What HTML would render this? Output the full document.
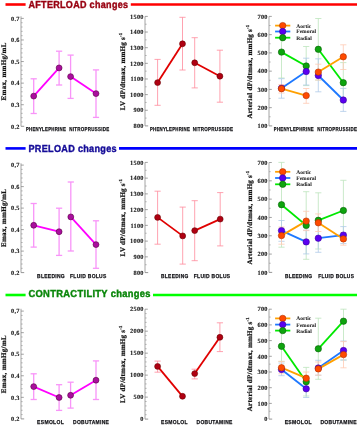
<!DOCTYPE html>
<html><head><meta charset="utf-8">
<style>
html,body{margin:0;padding:0;background:#fff;}
body{width:358px;height:425px;overflow:hidden;font-family:"Liberation Sans", sans-serif;}
svg{display:block;will-change:transform;text-rendering:geometricPrecision;}
</style></head>
<body>
<svg width="358" height="425" viewBox="0 0 358 425">
<rect width="358" height="425" fill="#fff"/>
<line x1="5.5" y1="4.5" x2="25.6" y2="4.5" stroke="#ff0000" stroke-width="2.6"/>
<text transform="translate(28.45,7.6) scale(0.8845,1)" font-family='"Liberation Sans", sans-serif' font-weight="bold" font-size="10.2" fill="#980010" stroke="#980010" stroke-width="0.42" letter-spacing="0.35">AFTERLOAD changes</text>
<line x1="130.8" y1="4.5" x2="357" y2="4.5" stroke="#ff0000" stroke-width="2.6"/>
<line x1="5.5" y1="148.4" x2="25.6" y2="148.4" stroke="#0000ff" stroke-width="2.6"/>
<text transform="translate(28.45,151.6) scale(0.8919,1)" font-family='"Liberation Sans", sans-serif' font-weight="bold" font-size="10.2" fill="#150c98" stroke="#150c98" stroke-width="0.42" letter-spacing="0.35">PRELOAD changes</text>
<line x1="119.0" y1="148.4" x2="357" y2="148.4" stroke="#0000ff" stroke-width="2.6"/>
<line x1="5.5" y1="295.0" x2="25.6" y2="295.0" stroke="#00ff00" stroke-width="2.6"/>
<text transform="translate(28.45,297.1) scale(0.9176,1)" font-family='"Liberation Sans", sans-serif' font-weight="bold" font-size="10.2" fill="#0a860a" stroke="#0a860a" stroke-width="0.42" letter-spacing="0.35">CONTRACTILITY changes</text>
<line x1="153.0" y1="295.0" x2="357" y2="295.0" stroke="#00ff00" stroke-width="2.6"/>
<line x1="21.0" y1="16.3" x2="21.0" y2="126.3" stroke="#9a9a9a" stroke-width="0.9"/>
<line x1="21.0" y1="126.3" x2="24.2" y2="126.3" stroke="#8a8a8a" stroke-width="0.9"/>
<line x1="21.0" y1="121.98" x2="22.6" y2="121.98" stroke="#a0a0a0" stroke-width="0.8"/>
<line x1="21.0" y1="117.67" x2="22.6" y2="117.67" stroke="#a0a0a0" stroke-width="0.8"/>
<line x1="21.0" y1="113.35" x2="22.6" y2="113.35" stroke="#a0a0a0" stroke-width="0.8"/>
<line x1="21.0" y1="109.04" x2="22.6" y2="109.04" stroke="#a0a0a0" stroke-width="0.8"/>
<line x1="21.0" y1="104.72" x2="23.8" y2="104.72" stroke="#8a8a8a" stroke-width="0.8"/>
<line x1="21.0" y1="100.40" x2="22.6" y2="100.40" stroke="#a0a0a0" stroke-width="0.8"/>
<line x1="21.0" y1="96.09" x2="22.6" y2="96.09" stroke="#a0a0a0" stroke-width="0.8"/>
<line x1="21.0" y1="91.77" x2="22.6" y2="91.77" stroke="#a0a0a0" stroke-width="0.8"/>
<line x1="21.0" y1="87.46" x2="22.6" y2="87.46" stroke="#a0a0a0" stroke-width="0.8"/>
<line x1="21.0" y1="83.14" x2="23.8" y2="83.14" stroke="#8a8a8a" stroke-width="0.8"/>
<line x1="21.0" y1="78.82" x2="22.6" y2="78.82" stroke="#a0a0a0" stroke-width="0.8"/>
<line x1="21.0" y1="74.51" x2="22.6" y2="74.51" stroke="#a0a0a0" stroke-width="0.8"/>
<line x1="21.0" y1="70.19" x2="22.6" y2="70.19" stroke="#a0a0a0" stroke-width="0.8"/>
<line x1="21.0" y1="65.88" x2="22.6" y2="65.88" stroke="#a0a0a0" stroke-width="0.8"/>
<line x1="21.0" y1="61.56" x2="23.8" y2="61.56" stroke="#8a8a8a" stroke-width="0.8"/>
<line x1="21.0" y1="57.24" x2="22.6" y2="57.24" stroke="#a0a0a0" stroke-width="0.8"/>
<line x1="21.0" y1="52.93" x2="22.6" y2="52.93" stroke="#a0a0a0" stroke-width="0.8"/>
<line x1="21.0" y1="48.61" x2="22.6" y2="48.61" stroke="#a0a0a0" stroke-width="0.8"/>
<line x1="21.0" y1="44.30" x2="22.6" y2="44.30" stroke="#a0a0a0" stroke-width="0.8"/>
<line x1="21.0" y1="39.98" x2="23.8" y2="39.98" stroke="#8a8a8a" stroke-width="0.8"/>
<line x1="21.0" y1="35.66" x2="22.6" y2="35.66" stroke="#a0a0a0" stroke-width="0.8"/>
<line x1="21.0" y1="31.35" x2="22.6" y2="31.35" stroke="#a0a0a0" stroke-width="0.8"/>
<line x1="21.0" y1="27.03" x2="22.6" y2="27.03" stroke="#a0a0a0" stroke-width="0.8"/>
<line x1="21.0" y1="22.72" x2="22.6" y2="22.72" stroke="#a0a0a0" stroke-width="0.8"/>
<line x1="21.0" y1="18.40" x2="23.8" y2="18.40" stroke="#8a8a8a" stroke-width="0.8"/>
<text x="19.78" y="128.50" text-anchor="end" font-family='"Liberation Serif", serif' font-weight="bold" font-size="6.3" letter-spacing="0.28" fill="#222" stroke="#222" stroke-width="0.12">0.2</text>
<text x="19.78" y="106.92" text-anchor="end" font-family='"Liberation Serif", serif' font-weight="bold" font-size="6.3" letter-spacing="0.28" fill="#222" stroke="#222" stroke-width="0.12">0.3</text>
<text x="19.78" y="85.34" text-anchor="end" font-family='"Liberation Serif", serif' font-weight="bold" font-size="6.3" letter-spacing="0.28" fill="#222" stroke="#222" stroke-width="0.12">0.4</text>
<text x="19.78" y="63.76" text-anchor="end" font-family='"Liberation Serif", serif' font-weight="bold" font-size="6.3" letter-spacing="0.28" fill="#222" stroke="#222" stroke-width="0.12">0.5</text>
<text x="19.78" y="42.18" text-anchor="end" font-family='"Liberation Serif", serif' font-weight="bold" font-size="6.3" letter-spacing="0.28" fill="#222" stroke="#222" stroke-width="0.12">0.6</text>
<text x="19.78" y="20.60" text-anchor="end" font-family='"Liberation Serif", serif' font-weight="bold" font-size="6.3" letter-spacing="0.28" fill="#222" stroke="#222" stroke-width="0.12">0.7</text>
<text transform="translate(6.0,71.36) rotate(-90)" text-anchor="middle" font-family='"Liberation Serif", serif' font-weight="bold" font-size="7" letter-spacing="0.317" fill="#111" stroke="#111" stroke-width="0.22">Emax, mmHg/mL</text>
<text x="25.9" y="131.0" font-family='"Liberation Sans", sans-serif' font-weight="bold" font-size="5.7" letter-spacing="0.35" fill="#141418" stroke="#141418" stroke-width="0.25" textLength="40.2" lengthAdjust="spacingAndGlyphs">PHENYLEPHRINE</text>
<text x="69.2" y="131.0" font-family='"Liberation Sans", sans-serif' font-weight="bold" font-size="5.7" letter-spacing="0.35" fill="#141418" stroke="#141418" stroke-width="0.25" textLength="40.2" lengthAdjust="spacingAndGlyphs">NITROPRUSSIDE</text>
<line x1="33.7" y1="78.8" x2="33.7" y2="113.5" stroke="#f894f8" stroke-width="1.3"/>
<line x1="30.6" y1="78.8" x2="36.800000000000004" y2="78.8" stroke="#f894f8" stroke-width="1.3"/>
<line x1="30.6" y1="113.5" x2="36.800000000000004" y2="113.5" stroke="#f894f8" stroke-width="1.3"/>
<line x1="59.1" y1="51.2" x2="59.1" y2="85.0" stroke="#f894f8" stroke-width="1.3"/>
<line x1="56.0" y1="51.2" x2="62.2" y2="51.2" stroke="#f894f8" stroke-width="1.3"/>
<line x1="56.0" y1="85.0" x2="62.2" y2="85.0" stroke="#f894f8" stroke-width="1.3"/>
<line x1="70.6" y1="55.1" x2="70.6" y2="98.4" stroke="#f894f8" stroke-width="1.3"/>
<line x1="67.5" y1="55.1" x2="73.69999999999999" y2="55.1" stroke="#f894f8" stroke-width="1.3"/>
<line x1="67.5" y1="98.4" x2="73.69999999999999" y2="98.4" stroke="#f894f8" stroke-width="1.3"/>
<line x1="96.0" y1="69.9" x2="96.0" y2="117.4" stroke="#f894f8" stroke-width="1.3"/>
<line x1="92.9" y1="69.9" x2="99.1" y2="69.9" stroke="#f894f8" stroke-width="1.3"/>
<line x1="92.9" y1="117.4" x2="99.1" y2="117.4" stroke="#f894f8" stroke-width="1.3"/>
<line x1="33.7" y1="96.1" x2="59.1" y2="67.9" stroke="#ff00ff" stroke-width="1.8"/>
<line x1="70.6" y1="76.6" x2="96.0" y2="93.6" stroke="#ff00ff" stroke-width="1.8"/>
<circle cx="33.7" cy="96.1" r="2.95" fill="#aa0e9e" stroke="#580042" stroke-width="0.6"/>
<circle cx="59.1" cy="67.9" r="2.95" fill="#aa0e9e" stroke="#580042" stroke-width="0.6"/>
<circle cx="70.6" cy="76.6" r="2.95" fill="#aa0e9e" stroke="#580042" stroke-width="0.6"/>
<circle cx="96.0" cy="93.6" r="2.95" fill="#aa0e9e" stroke="#580042" stroke-width="0.6"/>
<line x1="145.0" y1="16.4" x2="145.0" y2="125.9" stroke="#9a9a9a" stroke-width="0.9"/>
<line x1="145.0" y1="125.9" x2="148.2" y2="125.9" stroke="#8a8a8a" stroke-width="0.9"/>
<line x1="145.0" y1="118.08" x2="146.6" y2="118.08" stroke="#a0a0a0" stroke-width="0.8"/>
<line x1="145.0" y1="110.26" x2="147.8" y2="110.26" stroke="#8a8a8a" stroke-width="0.8"/>
<line x1="145.0" y1="102.44" x2="146.6" y2="102.44" stroke="#a0a0a0" stroke-width="0.8"/>
<line x1="145.0" y1="94.61" x2="147.8" y2="94.61" stroke="#8a8a8a" stroke-width="0.8"/>
<line x1="145.0" y1="86.79" x2="146.6" y2="86.79" stroke="#a0a0a0" stroke-width="0.8"/>
<line x1="145.0" y1="78.97" x2="147.8" y2="78.97" stroke="#8a8a8a" stroke-width="0.8"/>
<line x1="145.0" y1="71.15" x2="146.6" y2="71.15" stroke="#a0a0a0" stroke-width="0.8"/>
<line x1="145.0" y1="63.33" x2="147.8" y2="63.33" stroke="#8a8a8a" stroke-width="0.8"/>
<line x1="145.0" y1="55.51" x2="146.6" y2="55.51" stroke="#a0a0a0" stroke-width="0.8"/>
<line x1="145.0" y1="47.69" x2="147.8" y2="47.69" stroke="#8a8a8a" stroke-width="0.8"/>
<line x1="145.0" y1="39.86" x2="146.6" y2="39.86" stroke="#a0a0a0" stroke-width="0.8"/>
<line x1="145.0" y1="32.04" x2="147.8" y2="32.04" stroke="#8a8a8a" stroke-width="0.8"/>
<line x1="145.0" y1="24.22" x2="146.6" y2="24.22" stroke="#a0a0a0" stroke-width="0.8"/>
<line x1="145.0" y1="16.40" x2="147.8" y2="16.40" stroke="#8a8a8a" stroke-width="0.8"/>
<text x="143.78" y="128.10" text-anchor="end" font-family='"Liberation Serif", serif' font-weight="bold" font-size="6.3" letter-spacing="0.28" fill="#222" stroke="#222" stroke-width="0.12">800</text>
<text x="143.78" y="112.46" text-anchor="end" font-family='"Liberation Serif", serif' font-weight="bold" font-size="6.3" letter-spacing="0.28" fill="#222" stroke="#222" stroke-width="0.12">900</text>
<text x="143.78" y="96.81" text-anchor="end" font-family='"Liberation Serif", serif' font-weight="bold" font-size="6.3" letter-spacing="0.28" fill="#222" stroke="#222" stroke-width="0.12">1000</text>
<text x="143.78" y="81.17" text-anchor="end" font-family='"Liberation Serif", serif' font-weight="bold" font-size="6.3" letter-spacing="0.28" fill="#222" stroke="#222" stroke-width="0.12">1100</text>
<text x="143.78" y="65.53" text-anchor="end" font-family='"Liberation Serif", serif' font-weight="bold" font-size="6.3" letter-spacing="0.28" fill="#222" stroke="#222" stroke-width="0.12">1200</text>
<text x="143.78" y="49.89" text-anchor="end" font-family='"Liberation Serif", serif' font-weight="bold" font-size="6.3" letter-spacing="0.28" fill="#222" stroke="#222" stroke-width="0.12">1300</text>
<text x="143.78" y="34.24" text-anchor="end" font-family='"Liberation Serif", serif' font-weight="bold" font-size="6.3" letter-spacing="0.28" fill="#222" stroke="#222" stroke-width="0.12">1400</text>
<text x="143.78" y="18.60" text-anchor="end" font-family='"Liberation Serif", serif' font-weight="bold" font-size="6.3" letter-spacing="0.28" fill="#222" stroke="#222" stroke-width="0.12">1500</text>
<text transform="translate(125.3,71.42) rotate(-90)" text-anchor="middle" font-family='"Liberation Serif", serif' font-weight="bold" font-size="7" letter-spacing="0.25" fill="#111" stroke="#111" stroke-width="0.22">LV dP/dtmax, mmHg s<tspan font-size="4.6" dy="-3">-1</tspan></text>
<text x="149.9" y="131.0" font-family='"Liberation Sans", sans-serif' font-weight="bold" font-size="5.7" letter-spacing="0.35" fill="#141418" stroke="#141418" stroke-width="0.25" textLength="40.2" lengthAdjust="spacingAndGlyphs">PHENYLEPHRINE</text>
<text x="192.7" y="131.0" font-family='"Liberation Sans", sans-serif' font-weight="bold" font-size="5.7" letter-spacing="0.35" fill="#141418" stroke="#141418" stroke-width="0.25" textLength="40.6" lengthAdjust="spacingAndGlyphs">NITROPRUSSIDE</text>
<line x1="157.6" y1="59.4" x2="157.6" y2="105.3" stroke="#ff8a9c" stroke-width="0.8"/>
<line x1="154.5" y1="59.4" x2="160.7" y2="59.4" stroke="#ff8a9c" stroke-width="0.8"/>
<line x1="154.5" y1="105.3" x2="160.7" y2="105.3" stroke="#ff8a9c" stroke-width="0.8"/>
<line x1="182.5" y1="17.3" x2="182.5" y2="70.0" stroke="#ff8a9c" stroke-width="0.8"/>
<line x1="179.4" y1="17.3" x2="185.6" y2="17.3" stroke="#ff8a9c" stroke-width="0.8"/>
<line x1="179.4" y1="70.0" x2="185.6" y2="70.0" stroke="#ff8a9c" stroke-width="0.8"/>
<line x1="194.7" y1="37.7" x2="194.7" y2="87.9" stroke="#ff8a9c" stroke-width="0.8"/>
<line x1="191.6" y1="37.7" x2="197.79999999999998" y2="37.7" stroke="#ff8a9c" stroke-width="0.8"/>
<line x1="191.6" y1="87.9" x2="197.79999999999998" y2="87.9" stroke="#ff8a9c" stroke-width="0.8"/>
<line x1="219.9" y1="50.2" x2="219.9" y2="102.2" stroke="#ff8a9c" stroke-width="0.8"/>
<line x1="216.8" y1="50.2" x2="223.0" y2="50.2" stroke="#ff8a9c" stroke-width="0.8"/>
<line x1="216.8" y1="102.2" x2="223.0" y2="102.2" stroke="#ff8a9c" stroke-width="0.8"/>
<line x1="157.6" y1="82.6" x2="182.5" y2="43.8" stroke="#e00000" stroke-width="1.8"/>
<line x1="194.7" y1="62.8" x2="219.9" y2="76.2" stroke="#e00000" stroke-width="1.8"/>
<circle cx="157.6" cy="82.6" r="2.95" fill="#b00012" stroke="#680000" stroke-width="0.6"/>
<circle cx="182.5" cy="43.8" r="2.95" fill="#b00012" stroke="#680000" stroke-width="0.6"/>
<circle cx="194.7" cy="62.8" r="2.95" fill="#b00012" stroke="#680000" stroke-width="0.6"/>
<circle cx="219.9" cy="76.2" r="2.95" fill="#b00012" stroke="#680000" stroke-width="0.6"/>
<line x1="269.0" y1="16.4" x2="269.0" y2="125.9" stroke="#9a9a9a" stroke-width="0.9"/>
<line x1="269.0" y1="125.9" x2="272.2" y2="125.9" stroke="#8a8a8a" stroke-width="0.9"/>
<line x1="269.0" y1="116.78" x2="270.6" y2="116.78" stroke="#a0a0a0" stroke-width="0.8"/>
<line x1="269.0" y1="107.65" x2="271.8" y2="107.65" stroke="#8a8a8a" stroke-width="0.8"/>
<line x1="269.0" y1="98.53" x2="270.6" y2="98.53" stroke="#a0a0a0" stroke-width="0.8"/>
<line x1="269.0" y1="89.40" x2="271.8" y2="89.40" stroke="#8a8a8a" stroke-width="0.8"/>
<line x1="269.0" y1="80.28" x2="270.6" y2="80.28" stroke="#a0a0a0" stroke-width="0.8"/>
<line x1="269.0" y1="71.15" x2="271.8" y2="71.15" stroke="#8a8a8a" stroke-width="0.8"/>
<line x1="269.0" y1="62.03" x2="270.6" y2="62.03" stroke="#a0a0a0" stroke-width="0.8"/>
<line x1="269.0" y1="52.90" x2="271.8" y2="52.90" stroke="#8a8a8a" stroke-width="0.8"/>
<line x1="269.0" y1="43.78" x2="270.6" y2="43.78" stroke="#a0a0a0" stroke-width="0.8"/>
<line x1="269.0" y1="34.65" x2="271.8" y2="34.65" stroke="#8a8a8a" stroke-width="0.8"/>
<line x1="269.0" y1="25.53" x2="270.6" y2="25.53" stroke="#a0a0a0" stroke-width="0.8"/>
<line x1="269.0" y1="16.40" x2="271.8" y2="16.40" stroke="#8a8a8a" stroke-width="0.8"/>
<text x="267.78" y="128.10" text-anchor="end" font-family='"Liberation Serif", serif' font-weight="bold" font-size="6.3" letter-spacing="0.28" fill="#222" stroke="#222" stroke-width="0.12">100</text>
<text x="267.78" y="109.85" text-anchor="end" font-family='"Liberation Serif", serif' font-weight="bold" font-size="6.3" letter-spacing="0.28" fill="#222" stroke="#222" stroke-width="0.12">200</text>
<text x="267.78" y="91.60" text-anchor="end" font-family='"Liberation Serif", serif' font-weight="bold" font-size="6.3" letter-spacing="0.28" fill="#222" stroke="#222" stroke-width="0.12">300</text>
<text x="267.78" y="73.35" text-anchor="end" font-family='"Liberation Serif", serif' font-weight="bold" font-size="6.3" letter-spacing="0.28" fill="#222" stroke="#222" stroke-width="0.12">400</text>
<text x="267.78" y="55.10" text-anchor="end" font-family='"Liberation Serif", serif' font-weight="bold" font-size="6.3" letter-spacing="0.28" fill="#222" stroke="#222" stroke-width="0.12">500</text>
<text x="267.78" y="36.85" text-anchor="end" font-family='"Liberation Serif", serif' font-weight="bold" font-size="6.3" letter-spacing="0.28" fill="#222" stroke="#222" stroke-width="0.12">600</text>
<text x="267.78" y="18.60" text-anchor="end" font-family='"Liberation Serif", serif' font-weight="bold" font-size="6.3" letter-spacing="0.28" fill="#222" stroke="#222" stroke-width="0.12">700</text>
<text transform="translate(252.3,71.62) rotate(-90)" text-anchor="middle" font-family='"Liberation Serif", serif' font-weight="bold" font-size="7" letter-spacing="0.24" fill="#111" stroke="#111" stroke-width="0.22">Arterial dP/dtmax, mmHg s<tspan font-size="4.6" dy="-3">-1</tspan></text>
<text x="273.8" y="131.0" font-family='"Liberation Sans", sans-serif' font-weight="bold" font-size="5.7" letter-spacing="0.35" fill="#141418" stroke="#141418" stroke-width="0.25" textLength="40.2" lengthAdjust="spacingAndGlyphs">PHENYLEPHRINE</text>
<text x="317.2" y="131.0" font-family='"Liberation Sans", sans-serif' font-weight="bold" font-size="5.7" letter-spacing="0.35" fill="#141418" stroke="#141418" stroke-width="0.25" textLength="40.0" lengthAdjust="spacingAndGlyphs">NITROPRUSSIDE</text>
<line x1="281.5" y1="26.0" x2="281.5" y2="78.0" stroke="#bce4bc" stroke-width="0.8"/>
<line x1="278.4" y1="26.0" x2="284.6" y2="26.0" stroke="#bce4bc" stroke-width="0.8"/>
<line x1="278.4" y1="78.0" x2="284.6" y2="78.0" stroke="#bce4bc" stroke-width="0.8"/>
<line x1="306.2" y1="46.5" x2="306.2" y2="85.6" stroke="#bce4bc" stroke-width="0.8"/>
<line x1="303.09999999999997" y1="46.5" x2="309.3" y2="46.5" stroke="#bce4bc" stroke-width="0.8"/>
<line x1="303.09999999999997" y1="85.6" x2="309.3" y2="85.6" stroke="#bce4bc" stroke-width="0.8"/>
<line x1="318.3" y1="18.5" x2="318.3" y2="80.1" stroke="#bce4bc" stroke-width="0.8"/>
<line x1="315.2" y1="18.5" x2="321.40000000000003" y2="18.5" stroke="#bce4bc" stroke-width="0.8"/>
<line x1="315.2" y1="80.1" x2="321.40000000000003" y2="80.1" stroke="#bce4bc" stroke-width="0.8"/>
<line x1="343.3" y1="62.6" x2="343.3" y2="102.8" stroke="#bce4bc" stroke-width="0.8"/>
<line x1="340.2" y1="62.6" x2="346.40000000000003" y2="62.6" stroke="#bce4bc" stroke-width="0.8"/>
<line x1="340.2" y1="102.8" x2="346.40000000000003" y2="102.8" stroke="#bce4bc" stroke-width="0.8"/>
<line x1="281.5" y1="78.7" x2="281.5" y2="98.2" stroke="#b0cce8" stroke-width="0.8"/>
<line x1="278.4" y1="78.7" x2="284.6" y2="78.7" stroke="#b0cce8" stroke-width="0.8"/>
<line x1="278.4" y1="98.2" x2="284.6" y2="98.2" stroke="#b0cce8" stroke-width="0.8"/>
<line x1="306.2" y1="58.2" x2="306.2" y2="85.0" stroke="#b0cce8" stroke-width="0.8"/>
<line x1="303.09999999999997" y1="58.2" x2="309.3" y2="58.2" stroke="#b0cce8" stroke-width="0.8"/>
<line x1="303.09999999999997" y1="85.0" x2="309.3" y2="85.0" stroke="#b0cce8" stroke-width="0.8"/>
<line x1="318.3" y1="58.8" x2="318.3" y2="91.8" stroke="#b0cce8" stroke-width="0.8"/>
<line x1="315.2" y1="58.8" x2="321.40000000000003" y2="58.8" stroke="#b0cce8" stroke-width="0.8"/>
<line x1="315.2" y1="91.8" x2="321.40000000000003" y2="91.8" stroke="#b0cce8" stroke-width="0.8"/>
<line x1="343.3" y1="88.4" x2="343.3" y2="111.4" stroke="#b0cce8" stroke-width="0.8"/>
<line x1="340.2" y1="88.4" x2="346.40000000000003" y2="88.4" stroke="#b0cce8" stroke-width="0.8"/>
<line x1="340.2" y1="111.4" x2="346.40000000000003" y2="111.4" stroke="#b0cce8" stroke-width="0.8"/>
<line x1="281.5" y1="84.5" x2="281.5" y2="93.0" stroke="#ffcab4" stroke-width="0.8"/>
<line x1="278.4" y1="84.5" x2="284.6" y2="84.5" stroke="#ffcab4" stroke-width="0.8"/>
<line x1="278.4" y1="93.0" x2="284.6" y2="93.0" stroke="#ffcab4" stroke-width="0.8"/>
<line x1="306.2" y1="88.5" x2="306.2" y2="103.3" stroke="#ffcab4" stroke-width="0.8"/>
<line x1="303.09999999999997" y1="88.5" x2="309.3" y2="88.5" stroke="#ffcab4" stroke-width="0.8"/>
<line x1="303.09999999999997" y1="103.3" x2="309.3" y2="103.3" stroke="#ffcab4" stroke-width="0.8"/>
<line x1="318.3" y1="64.2" x2="318.3" y2="80.0" stroke="#ffcab4" stroke-width="0.8"/>
<line x1="315.2" y1="64.2" x2="321.40000000000003" y2="64.2" stroke="#ffcab4" stroke-width="0.8"/>
<line x1="315.2" y1="80.0" x2="321.40000000000003" y2="80.0" stroke="#ffcab4" stroke-width="0.8"/>
<line x1="343.3" y1="44.8" x2="343.3" y2="69.5" stroke="#ffcab4" stroke-width="0.8"/>
<line x1="340.2" y1="44.8" x2="346.40000000000003" y2="44.8" stroke="#ffcab4" stroke-width="0.8"/>
<line x1="340.2" y1="69.5" x2="346.40000000000003" y2="69.5" stroke="#ffcab4" stroke-width="0.8"/>
<line x1="281.5" y1="52.1" x2="306.2" y2="66.0" stroke="#00e800" stroke-width="1.8"/>
<line x1="318.3" y1="49.3" x2="343.3" y2="82.7" stroke="#00e800" stroke-width="1.8"/>
<line x1="281.5" y1="88.2" x2="306.2" y2="71.5" stroke="#1e78ff" stroke-width="1.8"/>
<line x1="318.3" y1="75.5" x2="343.3" y2="100.0" stroke="#1e78ff" stroke-width="1.8"/>
<line x1="281.5" y1="88.7" x2="306.2" y2="95.6" stroke="#ffa000" stroke-width="1.8"/>
<line x1="318.3" y1="72.1" x2="343.3" y2="56.8" stroke="#ffa000" stroke-width="1.8"/>
<circle cx="281.5" cy="52.1" r="3.2" fill="#0ea40e" stroke="#066006" stroke-width="0.6"/>
<circle cx="306.2" cy="66.0" r="3.2" fill="#0ea40e" stroke="#066006" stroke-width="0.6"/>
<circle cx="318.3" cy="49.3" r="3.2" fill="#0ea40e" stroke="#066006" stroke-width="0.6"/>
<circle cx="343.3" cy="82.7" r="3.2" fill="#0ea40e" stroke="#066006" stroke-width="0.6"/>
<circle cx="281.5" cy="88.2" r="3.2" fill="#5a00f0" stroke="#3a00a0" stroke-width="0.6"/>
<circle cx="306.2" cy="71.5" r="3.2" fill="#5a00f0" stroke="#3a00a0" stroke-width="0.6"/>
<circle cx="318.3" cy="75.5" r="3.2" fill="#5a00f0" stroke="#3a00a0" stroke-width="0.6"/>
<circle cx="343.3" cy="100.0" r="3.2" fill="#5a00f0" stroke="#3a00a0" stroke-width="0.6"/>
<circle cx="281.5" cy="88.7" r="3.2" fill="#ff4a00" stroke="#b03000" stroke-width="0.6"/>
<circle cx="306.2" cy="95.6" r="3.2" fill="#ff4a00" stroke="#b03000" stroke-width="0.6"/>
<circle cx="318.3" cy="72.1" r="3.2" fill="#ff4a00" stroke="#b03000" stroke-width="0.6"/>
<circle cx="343.3" cy="56.8" r="3.2" fill="#ff4a00" stroke="#b03000" stroke-width="0.6"/>
<line x1="275.09999999999997" y1="25.6" x2="290.3" y2="25.6" stroke="#ffa000" stroke-width="1.8"/>
<circle cx="282.7" cy="25.6" r="3.2" fill="#ff4a00" stroke="#b03000" stroke-width="0.6"/>
<text x="296.3" y="27.50" font-family='"Liberation Serif", serif' font-weight="bold" font-size="5.5" fill="#1a1a1a" stroke="#1a1a1a" stroke-width="0.04">Aortic</text>
<line x1="275.09999999999997" y1="31.5" x2="290.3" y2="31.5" stroke="#1e78ff" stroke-width="1.8"/>
<circle cx="282.7" cy="31.5" r="3.2" fill="#5a00f0" stroke="#3a00a0" stroke-width="0.6"/>
<text x="296.3" y="33.40" font-family='"Liberation Serif", serif' font-weight="bold" font-size="5.5" fill="#1a1a1a" stroke="#1a1a1a" stroke-width="0.04">Femoral</text>
<line x1="275.09999999999997" y1="37.7" x2="290.3" y2="37.7" stroke="#00e800" stroke-width="1.8"/>
<circle cx="282.7" cy="37.7" r="3.2" fill="#0ea40e" stroke="#066006" stroke-width="0.6"/>
<text x="296.3" y="39.60" font-family='"Liberation Serif", serif' font-weight="bold" font-size="5.5" fill="#1a1a1a" stroke="#1a1a1a" stroke-width="0.04">Radial</text>
<line x1="21.0" y1="163.3" x2="21.0" y2="272.6" stroke="#9a9a9a" stroke-width="0.9"/>
<line x1="21.0" y1="272.6" x2="24.2" y2="272.6" stroke="#8a8a8a" stroke-width="0.9"/>
<line x1="21.0" y1="268.30" x2="22.6" y2="268.30" stroke="#a0a0a0" stroke-width="0.8"/>
<line x1="21.0" y1="264.00" x2="22.6" y2="264.00" stroke="#a0a0a0" stroke-width="0.8"/>
<line x1="21.0" y1="259.70" x2="22.6" y2="259.70" stroke="#a0a0a0" stroke-width="0.8"/>
<line x1="21.0" y1="255.40" x2="22.6" y2="255.40" stroke="#a0a0a0" stroke-width="0.8"/>
<line x1="21.0" y1="251.10" x2="23.8" y2="251.10" stroke="#8a8a8a" stroke-width="0.8"/>
<line x1="21.0" y1="246.80" x2="22.6" y2="246.80" stroke="#a0a0a0" stroke-width="0.8"/>
<line x1="21.0" y1="242.50" x2="22.6" y2="242.50" stroke="#a0a0a0" stroke-width="0.8"/>
<line x1="21.0" y1="238.20" x2="22.6" y2="238.20" stroke="#a0a0a0" stroke-width="0.8"/>
<line x1="21.0" y1="233.90" x2="22.6" y2="233.90" stroke="#a0a0a0" stroke-width="0.8"/>
<line x1="21.0" y1="229.60" x2="23.8" y2="229.60" stroke="#8a8a8a" stroke-width="0.8"/>
<line x1="21.0" y1="225.30" x2="22.6" y2="225.30" stroke="#a0a0a0" stroke-width="0.8"/>
<line x1="21.0" y1="221.00" x2="22.6" y2="221.00" stroke="#a0a0a0" stroke-width="0.8"/>
<line x1="21.0" y1="216.70" x2="22.6" y2="216.70" stroke="#a0a0a0" stroke-width="0.8"/>
<line x1="21.0" y1="212.40" x2="22.6" y2="212.40" stroke="#a0a0a0" stroke-width="0.8"/>
<line x1="21.0" y1="208.10" x2="23.8" y2="208.10" stroke="#8a8a8a" stroke-width="0.8"/>
<line x1="21.0" y1="203.80" x2="22.6" y2="203.80" stroke="#a0a0a0" stroke-width="0.8"/>
<line x1="21.0" y1="199.50" x2="22.6" y2="199.50" stroke="#a0a0a0" stroke-width="0.8"/>
<line x1="21.0" y1="195.20" x2="22.6" y2="195.20" stroke="#a0a0a0" stroke-width="0.8"/>
<line x1="21.0" y1="190.90" x2="22.6" y2="190.90" stroke="#a0a0a0" stroke-width="0.8"/>
<line x1="21.0" y1="186.60" x2="23.8" y2="186.60" stroke="#8a8a8a" stroke-width="0.8"/>
<line x1="21.0" y1="182.30" x2="22.6" y2="182.30" stroke="#a0a0a0" stroke-width="0.8"/>
<line x1="21.0" y1="178.00" x2="22.6" y2="178.00" stroke="#a0a0a0" stroke-width="0.8"/>
<line x1="21.0" y1="173.70" x2="22.6" y2="173.70" stroke="#a0a0a0" stroke-width="0.8"/>
<line x1="21.0" y1="169.40" x2="22.6" y2="169.40" stroke="#a0a0a0" stroke-width="0.8"/>
<line x1="21.0" y1="165.10" x2="23.8" y2="165.10" stroke="#8a8a8a" stroke-width="0.8"/>
<text x="19.78" y="274.80" text-anchor="end" font-family='"Liberation Serif", serif' font-weight="bold" font-size="6.3" letter-spacing="0.28" fill="#222" stroke="#222" stroke-width="0.12">0.2</text>
<text x="19.78" y="253.30" text-anchor="end" font-family='"Liberation Serif", serif' font-weight="bold" font-size="6.3" letter-spacing="0.28" fill="#222" stroke="#222" stroke-width="0.12">0.3</text>
<text x="19.78" y="231.80" text-anchor="end" font-family='"Liberation Serif", serif' font-weight="bold" font-size="6.3" letter-spacing="0.28" fill="#222" stroke="#222" stroke-width="0.12">0.4</text>
<text x="19.78" y="210.30" text-anchor="end" font-family='"Liberation Serif", serif' font-weight="bold" font-size="6.3" letter-spacing="0.28" fill="#222" stroke="#222" stroke-width="0.12">0.5</text>
<text x="19.78" y="188.80" text-anchor="end" font-family='"Liberation Serif", serif' font-weight="bold" font-size="6.3" letter-spacing="0.28" fill="#222" stroke="#222" stroke-width="0.12">0.6</text>
<text x="19.78" y="167.30" text-anchor="end" font-family='"Liberation Serif", serif' font-weight="bold" font-size="6.3" letter-spacing="0.28" fill="#222" stroke="#222" stroke-width="0.12">0,7</text>
<text transform="translate(6.0,217.96) rotate(-90)" text-anchor="middle" font-family='"Liberation Serif", serif' font-weight="bold" font-size="7" letter-spacing="0.317" fill="#111" stroke="#111" stroke-width="0.22">Emax, mmHg/mL</text>
<text x="37.0" y="277.5" font-family='"Liberation Sans", sans-serif' font-weight="bold" font-size="5.7" letter-spacing="0.35" fill="#141418" stroke="#141418" stroke-width="0.25" textLength="28.0" lengthAdjust="spacingAndGlyphs">BLEEDING</text>
<text x="70.0" y="277.5" font-family='"Liberation Sans", sans-serif' font-weight="bold" font-size="5.7" letter-spacing="0.35" fill="#141418" stroke="#141418" stroke-width="0.25" textLength="36.6" lengthAdjust="spacingAndGlyphs">FLUID BOLUS</text>
<line x1="33.7" y1="203.5" x2="33.7" y2="247.1" stroke="#f894f8" stroke-width="1.3"/>
<line x1="30.6" y1="203.5" x2="36.800000000000004" y2="203.5" stroke="#f894f8" stroke-width="1.3"/>
<line x1="30.6" y1="247.1" x2="36.800000000000004" y2="247.1" stroke="#f894f8" stroke-width="1.3"/>
<line x1="59.1" y1="208.2" x2="59.1" y2="255.4" stroke="#f894f8" stroke-width="1.3"/>
<line x1="56.0" y1="208.2" x2="62.2" y2="208.2" stroke="#f894f8" stroke-width="1.3"/>
<line x1="56.0" y1="255.4" x2="62.2" y2="255.4" stroke="#f894f8" stroke-width="1.3"/>
<line x1="70.8" y1="182.0" x2="70.8" y2="251.0" stroke="#f894f8" stroke-width="1.3"/>
<line x1="67.7" y1="182.0" x2="73.89999999999999" y2="182.0" stroke="#f894f8" stroke-width="1.3"/>
<line x1="67.7" y1="251.0" x2="73.89999999999999" y2="251.0" stroke="#f894f8" stroke-width="1.3"/>
<line x1="96.0" y1="220.8" x2="96.0" y2="268.3" stroke="#f894f8" stroke-width="1.3"/>
<line x1="92.9" y1="220.8" x2="99.1" y2="220.8" stroke="#f894f8" stroke-width="1.3"/>
<line x1="92.9" y1="268.3" x2="99.1" y2="268.3" stroke="#f894f8" stroke-width="1.3"/>
<line x1="33.7" y1="225.3" x2="59.1" y2="231.7" stroke="#ff00ff" stroke-width="1.8"/>
<line x1="70.8" y1="216.9" x2="96.0" y2="244.6" stroke="#ff00ff" stroke-width="1.8"/>
<circle cx="33.7" cy="225.3" r="2.95" fill="#aa0e9e" stroke="#580042" stroke-width="0.6"/>
<circle cx="59.1" cy="231.7" r="2.95" fill="#aa0e9e" stroke="#580042" stroke-width="0.6"/>
<circle cx="70.8" cy="216.9" r="2.95" fill="#aa0e9e" stroke="#580042" stroke-width="0.6"/>
<circle cx="96.0" cy="244.6" r="2.95" fill="#aa0e9e" stroke="#580042" stroke-width="0.6"/>
<line x1="145.0" y1="162.4" x2="145.0" y2="272.6" stroke="#9a9a9a" stroke-width="0.9"/>
<line x1="145.0" y1="272.6" x2="148.2" y2="272.6" stroke="#8a8a8a" stroke-width="0.9"/>
<line x1="145.0" y1="264.73" x2="146.6" y2="264.73" stroke="#a0a0a0" stroke-width="0.8"/>
<line x1="145.0" y1="256.86" x2="147.8" y2="256.86" stroke="#8a8a8a" stroke-width="0.8"/>
<line x1="145.0" y1="248.99" x2="146.6" y2="248.99" stroke="#a0a0a0" stroke-width="0.8"/>
<line x1="145.0" y1="241.11" x2="147.8" y2="241.11" stroke="#8a8a8a" stroke-width="0.8"/>
<line x1="145.0" y1="233.24" x2="146.6" y2="233.24" stroke="#a0a0a0" stroke-width="0.8"/>
<line x1="145.0" y1="225.37" x2="147.8" y2="225.37" stroke="#8a8a8a" stroke-width="0.8"/>
<line x1="145.0" y1="217.50" x2="146.6" y2="217.50" stroke="#a0a0a0" stroke-width="0.8"/>
<line x1="145.0" y1="209.63" x2="147.8" y2="209.63" stroke="#8a8a8a" stroke-width="0.8"/>
<line x1="145.0" y1="201.76" x2="146.6" y2="201.76" stroke="#a0a0a0" stroke-width="0.8"/>
<line x1="145.0" y1="193.89" x2="147.8" y2="193.89" stroke="#8a8a8a" stroke-width="0.8"/>
<line x1="145.0" y1="186.01" x2="146.6" y2="186.01" stroke="#a0a0a0" stroke-width="0.8"/>
<line x1="145.0" y1="178.14" x2="147.8" y2="178.14" stroke="#8a8a8a" stroke-width="0.8"/>
<line x1="145.0" y1="170.27" x2="146.6" y2="170.27" stroke="#a0a0a0" stroke-width="0.8"/>
<line x1="145.0" y1="162.40" x2="147.8" y2="162.40" stroke="#8a8a8a" stroke-width="0.8"/>
<text x="143.78" y="274.80" text-anchor="end" font-family='"Liberation Serif", serif' font-weight="bold" font-size="6.3" letter-spacing="0.28" fill="#222" stroke="#222" stroke-width="0.12">800</text>
<text x="143.78" y="259.06" text-anchor="end" font-family='"Liberation Serif", serif' font-weight="bold" font-size="6.3" letter-spacing="0.28" fill="#222" stroke="#222" stroke-width="0.12">900</text>
<text x="143.78" y="243.31" text-anchor="end" font-family='"Liberation Serif", serif' font-weight="bold" font-size="6.3" letter-spacing="0.28" fill="#222" stroke="#222" stroke-width="0.12">1000</text>
<text x="143.78" y="227.57" text-anchor="end" font-family='"Liberation Serif", serif' font-weight="bold" font-size="6.3" letter-spacing="0.28" fill="#222" stroke="#222" stroke-width="0.12">1100</text>
<text x="143.78" y="211.83" text-anchor="end" font-family='"Liberation Serif", serif' font-weight="bold" font-size="6.3" letter-spacing="0.28" fill="#222" stroke="#222" stroke-width="0.12">1200</text>
<text x="143.78" y="196.09" text-anchor="end" font-family='"Liberation Serif", serif' font-weight="bold" font-size="6.3" letter-spacing="0.28" fill="#222" stroke="#222" stroke-width="0.12">1300</text>
<text x="143.78" y="180.34" text-anchor="end" font-family='"Liberation Serif", serif' font-weight="bold" font-size="6.3" letter-spacing="0.28" fill="#222" stroke="#222" stroke-width="0.12">1400</text>
<text x="143.78" y="164.60" text-anchor="end" font-family='"Liberation Serif", serif' font-weight="bold" font-size="6.3" letter-spacing="0.28" fill="#222" stroke="#222" stroke-width="0.12">1500</text>
<text transform="translate(125.3,217.62) rotate(-90)" text-anchor="middle" font-family='"Liberation Serif", serif' font-weight="bold" font-size="7" letter-spacing="0.25" fill="#111" stroke="#111" stroke-width="0.22">LV dP/dtmax, mmHg s<tspan font-size="4.6" dy="-3">-1</tspan></text>
<text x="161.0" y="277.5" font-family='"Liberation Sans", sans-serif' font-weight="bold" font-size="5.7" letter-spacing="0.35" fill="#141418" stroke="#141418" stroke-width="0.25" textLength="27.6" lengthAdjust="spacingAndGlyphs">BLEEDING</text>
<text x="193.8" y="277.5" font-family='"Liberation Sans", sans-serif' font-weight="bold" font-size="5.7" letter-spacing="0.35" fill="#141418" stroke="#141418" stroke-width="0.25" textLength="36.6" lengthAdjust="spacingAndGlyphs">FLUID BOLUS</text>
<line x1="157.6" y1="191.2" x2="157.6" y2="244.2" stroke="#ff8a9c" stroke-width="0.8"/>
<line x1="154.5" y1="191.2" x2="160.7" y2="191.2" stroke="#ff8a9c" stroke-width="0.8"/>
<line x1="154.5" y1="244.2" x2="160.7" y2="244.2" stroke="#ff8a9c" stroke-width="0.8"/>
<line x1="182.7" y1="207.1" x2="182.7" y2="264.1" stroke="#ff8a9c" stroke-width="0.8"/>
<line x1="179.6" y1="207.1" x2="185.79999999999998" y2="207.1" stroke="#ff8a9c" stroke-width="0.8"/>
<line x1="179.6" y1="264.1" x2="185.79999999999998" y2="264.1" stroke="#ff8a9c" stroke-width="0.8"/>
<line x1="194.7" y1="200.7" x2="194.7" y2="260.7" stroke="#ff8a9c" stroke-width="0.8"/>
<line x1="191.6" y1="200.7" x2="197.79999999999998" y2="200.7" stroke="#ff8a9c" stroke-width="0.8"/>
<line x1="191.6" y1="260.7" x2="197.79999999999998" y2="260.7" stroke="#ff8a9c" stroke-width="0.8"/>
<line x1="220.2" y1="192.6" x2="220.2" y2="245.9" stroke="#ff8a9c" stroke-width="0.8"/>
<line x1="217.1" y1="192.6" x2="223.29999999999998" y2="192.6" stroke="#ff8a9c" stroke-width="0.8"/>
<line x1="217.1" y1="245.9" x2="223.29999999999998" y2="245.9" stroke="#ff8a9c" stroke-width="0.8"/>
<line x1="157.6" y1="217.4" x2="182.7" y2="235.9" stroke="#e00000" stroke-width="1.8"/>
<line x1="194.7" y1="230.6" x2="220.2" y2="219.1" stroke="#e00000" stroke-width="1.8"/>
<circle cx="157.6" cy="217.4" r="2.95" fill="#b00012" stroke="#680000" stroke-width="0.6"/>
<circle cx="182.7" cy="235.9" r="2.95" fill="#b00012" stroke="#680000" stroke-width="0.6"/>
<circle cx="194.7" cy="230.6" r="2.95" fill="#b00012" stroke="#680000" stroke-width="0.6"/>
<circle cx="220.2" cy="219.1" r="2.95" fill="#b00012" stroke="#680000" stroke-width="0.6"/>
<line x1="269.0" y1="162.5" x2="269.0" y2="272.4" stroke="#9a9a9a" stroke-width="0.9"/>
<line x1="269.0" y1="272.4" x2="272.2" y2="272.4" stroke="#8a8a8a" stroke-width="0.9"/>
<line x1="269.0" y1="263.24" x2="270.6" y2="263.24" stroke="#a0a0a0" stroke-width="0.8"/>
<line x1="269.0" y1="254.08" x2="271.8" y2="254.08" stroke="#8a8a8a" stroke-width="0.8"/>
<line x1="269.0" y1="244.92" x2="270.6" y2="244.92" stroke="#a0a0a0" stroke-width="0.8"/>
<line x1="269.0" y1="235.77" x2="271.8" y2="235.77" stroke="#8a8a8a" stroke-width="0.8"/>
<line x1="269.0" y1="226.61" x2="270.6" y2="226.61" stroke="#a0a0a0" stroke-width="0.8"/>
<line x1="269.0" y1="217.45" x2="271.8" y2="217.45" stroke="#8a8a8a" stroke-width="0.8"/>
<line x1="269.0" y1="208.29" x2="270.6" y2="208.29" stroke="#a0a0a0" stroke-width="0.8"/>
<line x1="269.0" y1="199.13" x2="271.8" y2="199.13" stroke="#8a8a8a" stroke-width="0.8"/>
<line x1="269.0" y1="189.97" x2="270.6" y2="189.97" stroke="#a0a0a0" stroke-width="0.8"/>
<line x1="269.0" y1="180.82" x2="271.8" y2="180.82" stroke="#8a8a8a" stroke-width="0.8"/>
<line x1="269.0" y1="171.66" x2="270.6" y2="171.66" stroke="#a0a0a0" stroke-width="0.8"/>
<line x1="269.0" y1="162.50" x2="271.8" y2="162.50" stroke="#8a8a8a" stroke-width="0.8"/>
<text x="267.78" y="274.60" text-anchor="end" font-family='"Liberation Serif", serif' font-weight="bold" font-size="6.3" letter-spacing="0.28" fill="#222" stroke="#222" stroke-width="0.12">100</text>
<text x="267.78" y="256.28" text-anchor="end" font-family='"Liberation Serif", serif' font-weight="bold" font-size="6.3" letter-spacing="0.28" fill="#222" stroke="#222" stroke-width="0.12">200</text>
<text x="267.78" y="237.97" text-anchor="end" font-family='"Liberation Serif", serif' font-weight="bold" font-size="6.3" letter-spacing="0.28" fill="#222" stroke="#222" stroke-width="0.12">300</text>
<text x="267.78" y="219.65" text-anchor="end" font-family='"Liberation Serif", serif' font-weight="bold" font-size="6.3" letter-spacing="0.28" fill="#222" stroke="#222" stroke-width="0.12">400</text>
<text x="267.78" y="201.33" text-anchor="end" font-family='"Liberation Serif", serif' font-weight="bold" font-size="6.3" letter-spacing="0.28" fill="#222" stroke="#222" stroke-width="0.12">500</text>
<text x="267.78" y="183.02" text-anchor="end" font-family='"Liberation Serif", serif' font-weight="bold" font-size="6.3" letter-spacing="0.28" fill="#222" stroke="#222" stroke-width="0.12">600</text>
<text x="267.78" y="164.70" text-anchor="end" font-family='"Liberation Serif", serif' font-weight="bold" font-size="6.3" letter-spacing="0.28" fill="#222" stroke="#222" stroke-width="0.12">700</text>
<text transform="translate(252.3,217.62) rotate(-90)" text-anchor="middle" font-family='"Liberation Serif", serif' font-weight="bold" font-size="7" letter-spacing="0.24" fill="#111" stroke="#111" stroke-width="0.22">Arterial dP/dtmax, mmHg s<tspan font-size="4.6" dy="-3">-1</tspan></text>
<text x="285.0" y="277.5" font-family='"Liberation Sans", sans-serif' font-weight="bold" font-size="5.7" letter-spacing="0.35" fill="#141418" stroke="#141418" stroke-width="0.25" textLength="27.4" lengthAdjust="spacingAndGlyphs">BLEEDING</text>
<text x="318.2" y="277.5" font-family='"Liberation Sans", sans-serif' font-weight="bold" font-size="5.7" letter-spacing="0.35" fill="#141418" stroke="#141418" stroke-width="0.25" textLength="36.0" lengthAdjust="spacingAndGlyphs">FLUID BOLUS</text>
<line x1="281.5" y1="162.4" x2="281.5" y2="247.2" stroke="#bce4bc" stroke-width="0.8"/>
<line x1="278.4" y1="162.4" x2="284.6" y2="162.4" stroke="#bce4bc" stroke-width="0.8"/>
<line x1="278.4" y1="247.2" x2="284.6" y2="247.2" stroke="#bce4bc" stroke-width="0.8"/>
<line x1="306.2" y1="191.7" x2="306.2" y2="259.3" stroke="#bce4bc" stroke-width="0.8"/>
<line x1="303.09999999999997" y1="191.7" x2="309.3" y2="191.7" stroke="#bce4bc" stroke-width="0.8"/>
<line x1="303.09999999999997" y1="259.3" x2="309.3" y2="259.3" stroke="#bce4bc" stroke-width="0.8"/>
<line x1="318.3" y1="192.8" x2="318.3" y2="249.0" stroke="#bce4bc" stroke-width="0.8"/>
<line x1="315.2" y1="192.8" x2="321.40000000000003" y2="192.8" stroke="#bce4bc" stroke-width="0.8"/>
<line x1="315.2" y1="249.0" x2="321.40000000000003" y2="249.0" stroke="#bce4bc" stroke-width="0.8"/>
<line x1="343.4" y1="180.3" x2="343.4" y2="240.7" stroke="#bce4bc" stroke-width="0.8"/>
<line x1="340.29999999999995" y1="180.3" x2="346.5" y2="180.3" stroke="#bce4bc" stroke-width="0.8"/>
<line x1="340.29999999999995" y1="240.7" x2="346.5" y2="240.7" stroke="#bce4bc" stroke-width="0.8"/>
<line x1="281.5" y1="220.5" x2="281.5" y2="241.3" stroke="#b0cce8" stroke-width="0.8"/>
<line x1="278.4" y1="220.5" x2="284.6" y2="220.5" stroke="#b0cce8" stroke-width="0.8"/>
<line x1="278.4" y1="241.3" x2="284.6" y2="241.3" stroke="#b0cce8" stroke-width="0.8"/>
<line x1="306.2" y1="230.2" x2="306.2" y2="253.9" stroke="#b0cce8" stroke-width="0.8"/>
<line x1="303.09999999999997" y1="230.2" x2="309.3" y2="230.2" stroke="#b0cce8" stroke-width="0.8"/>
<line x1="303.09999999999997" y1="253.9" x2="309.3" y2="253.9" stroke="#b0cce8" stroke-width="0.8"/>
<line x1="318.3" y1="224.1" x2="318.3" y2="252.3" stroke="#b0cce8" stroke-width="0.8"/>
<line x1="315.2" y1="224.1" x2="321.40000000000003" y2="224.1" stroke="#b0cce8" stroke-width="0.8"/>
<line x1="315.2" y1="252.3" x2="321.40000000000003" y2="252.3" stroke="#b0cce8" stroke-width="0.8"/>
<line x1="343.4" y1="226.6" x2="343.4" y2="243.6" stroke="#b0cce8" stroke-width="0.8"/>
<line x1="340.29999999999995" y1="226.6" x2="346.5" y2="226.6" stroke="#b0cce8" stroke-width="0.8"/>
<line x1="340.29999999999995" y1="243.6" x2="346.5" y2="243.6" stroke="#b0cce8" stroke-width="0.8"/>
<line x1="281.5" y1="227.0" x2="281.5" y2="244.2" stroke="#ffcab4" stroke-width="0.8"/>
<line x1="278.4" y1="227.0" x2="284.6" y2="227.0" stroke="#ffcab4" stroke-width="0.8"/>
<line x1="278.4" y1="244.2" x2="284.6" y2="244.2" stroke="#ffcab4" stroke-width="0.8"/>
<line x1="306.2" y1="211.3" x2="306.2" y2="230.6" stroke="#ffcab4" stroke-width="0.8"/>
<line x1="303.09999999999997" y1="211.3" x2="309.3" y2="211.3" stroke="#ffcab4" stroke-width="0.8"/>
<line x1="303.09999999999997" y1="230.6" x2="309.3" y2="230.6" stroke="#ffcab4" stroke-width="0.8"/>
<line x1="318.3" y1="213.9" x2="318.3" y2="231.5" stroke="#ffcab4" stroke-width="0.8"/>
<line x1="315.2" y1="213.9" x2="321.40000000000003" y2="213.9" stroke="#ffcab4" stroke-width="0.8"/>
<line x1="315.2" y1="231.5" x2="321.40000000000003" y2="231.5" stroke="#ffcab4" stroke-width="0.8"/>
<line x1="343.4" y1="232.6" x2="343.4" y2="245.2" stroke="#ffcab4" stroke-width="0.8"/>
<line x1="340.29999999999995" y1="232.6" x2="346.5" y2="232.6" stroke="#ffcab4" stroke-width="0.8"/>
<line x1="340.29999999999995" y1="245.2" x2="346.5" y2="245.2" stroke="#ffcab4" stroke-width="0.8"/>
<line x1="281.5" y1="204.7" x2="306.2" y2="225.4" stroke="#00e800" stroke-width="1.8"/>
<line x1="318.3" y1="220.3" x2="343.4" y2="210.5" stroke="#00e800" stroke-width="1.8"/>
<line x1="281.5" y1="230.6" x2="306.2" y2="241.9" stroke="#1e78ff" stroke-width="1.8"/>
<line x1="318.3" y1="238.2" x2="343.4" y2="235.1" stroke="#1e78ff" stroke-width="1.8"/>
<line x1="281.5" y1="235.6" x2="306.2" y2="221.1" stroke="#ffa000" stroke-width="1.8"/>
<line x1="318.3" y1="222.8" x2="343.4" y2="238.9" stroke="#ffa000" stroke-width="1.8"/>
<circle cx="281.5" cy="204.7" r="3.2" fill="#0ea40e" stroke="#066006" stroke-width="0.6"/>
<circle cx="306.2" cy="225.4" r="3.2" fill="#0ea40e" stroke="#066006" stroke-width="0.6"/>
<circle cx="318.3" cy="220.3" r="3.2" fill="#0ea40e" stroke="#066006" stroke-width="0.6"/>
<circle cx="343.4" cy="210.5" r="3.2" fill="#0ea40e" stroke="#066006" stroke-width="0.6"/>
<circle cx="281.5" cy="230.6" r="3.2" fill="#5a00f0" stroke="#3a00a0" stroke-width="0.6"/>
<circle cx="306.2" cy="241.9" r="3.2" fill="#5a00f0" stroke="#3a00a0" stroke-width="0.6"/>
<circle cx="318.3" cy="238.2" r="3.2" fill="#5a00f0" stroke="#3a00a0" stroke-width="0.6"/>
<circle cx="343.4" cy="235.1" r="3.2" fill="#5a00f0" stroke="#3a00a0" stroke-width="0.6"/>
<circle cx="281.5" cy="235.6" r="3.2" fill="#ff4a00" stroke="#b03000" stroke-width="0.6"/>
<circle cx="306.2" cy="221.1" r="3.2" fill="#ff4a00" stroke="#b03000" stroke-width="0.6"/>
<circle cx="318.3" cy="222.8" r="3.2" fill="#ff4a00" stroke="#b03000" stroke-width="0.6"/>
<circle cx="343.4" cy="238.9" r="3.2" fill="#ff4a00" stroke="#b03000" stroke-width="0.6"/>
<line x1="275.09999999999997" y1="171.8" x2="290.3" y2="171.8" stroke="#ffa000" stroke-width="1.8"/>
<circle cx="282.7" cy="171.8" r="3.2" fill="#ff4a00" stroke="#b03000" stroke-width="0.6"/>
<text x="296.3" y="173.70" font-family='"Liberation Serif", serif' font-weight="bold" font-size="5.5" fill="#1a1a1a" stroke="#1a1a1a" stroke-width="0.04">Aortic</text>
<line x1="275.09999999999997" y1="178.0" x2="290.3" y2="178.0" stroke="#1e78ff" stroke-width="1.8"/>
<circle cx="282.7" cy="178.0" r="3.2" fill="#5a00f0" stroke="#3a00a0" stroke-width="0.6"/>
<text x="296.3" y="179.90" font-family='"Liberation Serif", serif' font-weight="bold" font-size="5.5" fill="#1a1a1a" stroke="#1a1a1a" stroke-width="0.04">Femoral</text>
<line x1="275.09999999999997" y1="184.3" x2="290.3" y2="184.3" stroke="#00e800" stroke-width="1.8"/>
<circle cx="282.7" cy="184.3" r="3.2" fill="#0ea40e" stroke="#066006" stroke-width="0.6"/>
<text x="296.3" y="186.20" font-family='"Liberation Serif", serif' font-weight="bold" font-size="5.5" fill="#1a1a1a" stroke="#1a1a1a" stroke-width="0.04">Radial</text>
<line x1="21.0" y1="308.8" x2="21.0" y2="418.9" stroke="#9a9a9a" stroke-width="0.9"/>
<line x1="21.0" y1="418.9" x2="24.2" y2="418.9" stroke="#8a8a8a" stroke-width="0.9"/>
<line x1="21.0" y1="414.59" x2="22.6" y2="414.59" stroke="#a0a0a0" stroke-width="0.8"/>
<line x1="21.0" y1="410.28" x2="22.6" y2="410.28" stroke="#a0a0a0" stroke-width="0.8"/>
<line x1="21.0" y1="405.96" x2="22.6" y2="405.96" stroke="#a0a0a0" stroke-width="0.8"/>
<line x1="21.0" y1="401.65" x2="22.6" y2="401.65" stroke="#a0a0a0" stroke-width="0.8"/>
<line x1="21.0" y1="397.34" x2="23.8" y2="397.34" stroke="#8a8a8a" stroke-width="0.8"/>
<line x1="21.0" y1="393.03" x2="22.6" y2="393.03" stroke="#a0a0a0" stroke-width="0.8"/>
<line x1="21.0" y1="388.72" x2="22.6" y2="388.72" stroke="#a0a0a0" stroke-width="0.8"/>
<line x1="21.0" y1="384.40" x2="22.6" y2="384.40" stroke="#a0a0a0" stroke-width="0.8"/>
<line x1="21.0" y1="380.09" x2="22.6" y2="380.09" stroke="#a0a0a0" stroke-width="0.8"/>
<line x1="21.0" y1="375.78" x2="23.8" y2="375.78" stroke="#8a8a8a" stroke-width="0.8"/>
<line x1="21.0" y1="371.47" x2="22.6" y2="371.47" stroke="#a0a0a0" stroke-width="0.8"/>
<line x1="21.0" y1="367.16" x2="22.6" y2="367.16" stroke="#a0a0a0" stroke-width="0.8"/>
<line x1="21.0" y1="362.84" x2="22.6" y2="362.84" stroke="#a0a0a0" stroke-width="0.8"/>
<line x1="21.0" y1="358.53" x2="22.6" y2="358.53" stroke="#a0a0a0" stroke-width="0.8"/>
<line x1="21.0" y1="354.22" x2="23.8" y2="354.22" stroke="#8a8a8a" stroke-width="0.8"/>
<line x1="21.0" y1="349.91" x2="22.6" y2="349.91" stroke="#a0a0a0" stroke-width="0.8"/>
<line x1="21.0" y1="345.60" x2="22.6" y2="345.60" stroke="#a0a0a0" stroke-width="0.8"/>
<line x1="21.0" y1="341.28" x2="22.6" y2="341.28" stroke="#a0a0a0" stroke-width="0.8"/>
<line x1="21.0" y1="336.97" x2="22.6" y2="336.97" stroke="#a0a0a0" stroke-width="0.8"/>
<line x1="21.0" y1="332.66" x2="23.8" y2="332.66" stroke="#8a8a8a" stroke-width="0.8"/>
<line x1="21.0" y1="328.35" x2="22.6" y2="328.35" stroke="#a0a0a0" stroke-width="0.8"/>
<line x1="21.0" y1="324.04" x2="22.6" y2="324.04" stroke="#a0a0a0" stroke-width="0.8"/>
<line x1="21.0" y1="319.72" x2="22.6" y2="319.72" stroke="#a0a0a0" stroke-width="0.8"/>
<line x1="21.0" y1="315.41" x2="22.6" y2="315.41" stroke="#a0a0a0" stroke-width="0.8"/>
<line x1="21.0" y1="311.10" x2="23.8" y2="311.10" stroke="#8a8a8a" stroke-width="0.8"/>
<text x="19.78" y="421.10" text-anchor="end" font-family='"Liberation Serif", serif' font-weight="bold" font-size="6.3" letter-spacing="0.28" fill="#222" stroke="#222" stroke-width="0.12">0.2</text>
<text x="19.78" y="399.54" text-anchor="end" font-family='"Liberation Serif", serif' font-weight="bold" font-size="6.3" letter-spacing="0.28" fill="#222" stroke="#222" stroke-width="0.12">0.3</text>
<text x="19.78" y="377.98" text-anchor="end" font-family='"Liberation Serif", serif' font-weight="bold" font-size="6.3" letter-spacing="0.28" fill="#222" stroke="#222" stroke-width="0.12">0.4</text>
<text x="19.78" y="356.42" text-anchor="end" font-family='"Liberation Serif", serif' font-weight="bold" font-size="6.3" letter-spacing="0.28" fill="#222" stroke="#222" stroke-width="0.12">0.5</text>
<text x="19.78" y="334.86" text-anchor="end" font-family='"Liberation Serif", serif' font-weight="bold" font-size="6.3" letter-spacing="0.28" fill="#222" stroke="#222" stroke-width="0.12">0,6</text>
<text x="19.78" y="313.30" text-anchor="end" font-family='"Liberation Serif", serif' font-weight="bold" font-size="6.3" letter-spacing="0.28" fill="#222" stroke="#222" stroke-width="0.12">0,7</text>
<text transform="translate(6.0,364.16) rotate(-90)" text-anchor="middle" font-family='"Liberation Serif", serif' font-weight="bold" font-size="7" letter-spacing="0.317" fill="#111" stroke="#111" stroke-width="0.22">Emax, mmHg/mL</text>
<text x="37.1" y="423.9" font-family='"Liberation Sans", sans-serif' font-weight="bold" font-size="5.7" letter-spacing="0.35" fill="#141418" stroke="#141418" stroke-width="0.25" textLength="27.0" lengthAdjust="spacingAndGlyphs">ESMOLOL</text>
<text x="73.0" y="423.9" font-family='"Liberation Sans", sans-serif' font-weight="bold" font-size="5.7" letter-spacing="0.35" fill="#141418" stroke="#141418" stroke-width="0.25" textLength="36.2" lengthAdjust="spacingAndGlyphs">DOBUTAMINE</text>
<line x1="33.7" y1="373.8" x2="33.7" y2="399.5" stroke="#f894f8" stroke-width="1.3"/>
<line x1="30.6" y1="373.8" x2="36.800000000000004" y2="373.8" stroke="#f894f8" stroke-width="1.3"/>
<line x1="30.6" y1="399.5" x2="36.800000000000004" y2="399.5" stroke="#f894f8" stroke-width="1.3"/>
<line x1="59.1" y1="384.7" x2="59.1" y2="410.4" stroke="#f894f8" stroke-width="1.3"/>
<line x1="56.0" y1="384.7" x2="62.2" y2="384.7" stroke="#f894f8" stroke-width="1.3"/>
<line x1="56.0" y1="410.4" x2="62.2" y2="410.4" stroke="#f894f8" stroke-width="1.3"/>
<line x1="70.6" y1="382.2" x2="70.6" y2="408.1" stroke="#f894f8" stroke-width="1.3"/>
<line x1="67.5" y1="382.2" x2="73.69999999999999" y2="382.2" stroke="#f894f8" stroke-width="1.3"/>
<line x1="67.5" y1="408.1" x2="73.69999999999999" y2="408.1" stroke="#f894f8" stroke-width="1.3"/>
<line x1="96.0" y1="360.9" x2="96.0" y2="399.5" stroke="#f894f8" stroke-width="1.3"/>
<line x1="92.9" y1="360.9" x2="99.1" y2="360.9" stroke="#f894f8" stroke-width="1.3"/>
<line x1="92.9" y1="399.5" x2="99.1" y2="399.5" stroke="#f894f8" stroke-width="1.3"/>
<line x1="33.7" y1="386.6" x2="59.1" y2="397.5" stroke="#ff00ff" stroke-width="1.8"/>
<line x1="70.6" y1="395.3" x2="96.0" y2="380.2" stroke="#ff00ff" stroke-width="1.8"/>
<circle cx="33.7" cy="386.6" r="2.95" fill="#aa0e9e" stroke="#580042" stroke-width="0.6"/>
<circle cx="59.1" cy="397.5" r="2.95" fill="#aa0e9e" stroke="#580042" stroke-width="0.6"/>
<circle cx="70.6" cy="395.3" r="2.95" fill="#aa0e9e" stroke="#580042" stroke-width="0.6"/>
<circle cx="96.0" cy="380.2" r="2.95" fill="#aa0e9e" stroke="#580042" stroke-width="0.6"/>
<line x1="145.0" y1="309.2" x2="145.0" y2="419.1" stroke="#9a9a9a" stroke-width="0.9"/>
<line x1="145.0" y1="419.1" x2="148.2" y2="419.1" stroke="#8a8a8a" stroke-width="0.9"/>
<line x1="145.0" y1="414.70" x2="146.6" y2="414.70" stroke="#a0a0a0" stroke-width="0.8"/>
<line x1="145.0" y1="410.31" x2="146.6" y2="410.31" stroke="#a0a0a0" stroke-width="0.8"/>
<line x1="145.0" y1="405.91" x2="146.6" y2="405.91" stroke="#a0a0a0" stroke-width="0.8"/>
<line x1="145.0" y1="401.52" x2="146.6" y2="401.52" stroke="#a0a0a0" stroke-width="0.8"/>
<line x1="145.0" y1="397.12" x2="147.8" y2="397.12" stroke="#8a8a8a" stroke-width="0.8"/>
<line x1="145.0" y1="392.72" x2="146.6" y2="392.72" stroke="#a0a0a0" stroke-width="0.8"/>
<line x1="145.0" y1="388.33" x2="146.6" y2="388.33" stroke="#a0a0a0" stroke-width="0.8"/>
<line x1="145.0" y1="383.93" x2="146.6" y2="383.93" stroke="#a0a0a0" stroke-width="0.8"/>
<line x1="145.0" y1="379.54" x2="146.6" y2="379.54" stroke="#a0a0a0" stroke-width="0.8"/>
<line x1="145.0" y1="375.14" x2="147.8" y2="375.14" stroke="#8a8a8a" stroke-width="0.8"/>
<line x1="145.0" y1="370.74" x2="146.6" y2="370.74" stroke="#a0a0a0" stroke-width="0.8"/>
<line x1="145.0" y1="366.35" x2="146.6" y2="366.35" stroke="#a0a0a0" stroke-width="0.8"/>
<line x1="145.0" y1="361.95" x2="146.6" y2="361.95" stroke="#a0a0a0" stroke-width="0.8"/>
<line x1="145.0" y1="357.56" x2="146.6" y2="357.56" stroke="#a0a0a0" stroke-width="0.8"/>
<line x1="145.0" y1="353.16" x2="147.8" y2="353.16" stroke="#8a8a8a" stroke-width="0.8"/>
<line x1="145.0" y1="348.76" x2="146.6" y2="348.76" stroke="#a0a0a0" stroke-width="0.8"/>
<line x1="145.0" y1="344.37" x2="146.6" y2="344.37" stroke="#a0a0a0" stroke-width="0.8"/>
<line x1="145.0" y1="339.97" x2="146.6" y2="339.97" stroke="#a0a0a0" stroke-width="0.8"/>
<line x1="145.0" y1="335.58" x2="146.6" y2="335.58" stroke="#a0a0a0" stroke-width="0.8"/>
<line x1="145.0" y1="331.18" x2="147.8" y2="331.18" stroke="#8a8a8a" stroke-width="0.8"/>
<line x1="145.0" y1="326.78" x2="146.6" y2="326.78" stroke="#a0a0a0" stroke-width="0.8"/>
<line x1="145.0" y1="322.39" x2="146.6" y2="322.39" stroke="#a0a0a0" stroke-width="0.8"/>
<line x1="145.0" y1="317.99" x2="146.6" y2="317.99" stroke="#a0a0a0" stroke-width="0.8"/>
<line x1="145.0" y1="313.60" x2="146.6" y2="313.60" stroke="#a0a0a0" stroke-width="0.8"/>
<line x1="145.0" y1="309.20" x2="147.8" y2="309.20" stroke="#8a8a8a" stroke-width="0.8"/>
<text x="143.78" y="421.30" text-anchor="end" font-family='"Liberation Serif", serif' font-weight="bold" font-size="6.3" letter-spacing="0.28" fill="#222" stroke="#222" stroke-width="0.12">0</text>
<text x="143.78" y="399.32" text-anchor="end" font-family='"Liberation Serif", serif' font-weight="bold" font-size="6.3" letter-spacing="0.28" fill="#222" stroke="#222" stroke-width="0.12">500</text>
<text x="143.78" y="377.34" text-anchor="end" font-family='"Liberation Serif", serif' font-weight="bold" font-size="6.3" letter-spacing="0.28" fill="#222" stroke="#222" stroke-width="0.12">1000</text>
<text x="143.78" y="355.36" text-anchor="end" font-family='"Liberation Serif", serif' font-weight="bold" font-size="6.3" letter-spacing="0.28" fill="#222" stroke="#222" stroke-width="0.12">1500</text>
<text x="143.78" y="333.38" text-anchor="end" font-family='"Liberation Serif", serif' font-weight="bold" font-size="6.3" letter-spacing="0.28" fill="#222" stroke="#222" stroke-width="0.12">2000</text>
<text x="143.78" y="311.40" text-anchor="end" font-family='"Liberation Serif", serif' font-weight="bold" font-size="6.3" letter-spacing="0.28" fill="#222" stroke="#222" stroke-width="0.12">2500</text>
<text transform="translate(125.3,364.23) rotate(-90)" text-anchor="middle" font-family='"Liberation Serif", serif' font-weight="bold" font-size="7" letter-spacing="0.25" fill="#111" stroke="#111" stroke-width="0.22">LV dP/dtmax, mmHg s<tspan font-size="4.6" dy="-3">-1</tspan></text>
<text x="161.0" y="423.9" font-family='"Liberation Sans", sans-serif' font-weight="bold" font-size="5.7" letter-spacing="0.35" fill="#141418" stroke="#141418" stroke-width="0.25" textLength="26.8" lengthAdjust="spacingAndGlyphs">ESMOLOL</text>
<text x="196.6" y="423.9" font-family='"Liberation Sans", sans-serif' font-weight="bold" font-size="5.7" letter-spacing="0.35" fill="#141418" stroke="#141418" stroke-width="0.25" textLength="36.0" lengthAdjust="spacingAndGlyphs">DOBUTAMINE</text>
<line x1="157.6" y1="361.1" x2="157.6" y2="372.2" stroke="#ff8a9c" stroke-width="0.8"/>
<line x1="154.5" y1="361.1" x2="160.7" y2="361.1" stroke="#ff8a9c" stroke-width="0.8"/>
<line x1="154.5" y1="372.2" x2="160.7" y2="372.2" stroke="#ff8a9c" stroke-width="0.8"/>
<line x1="194.7" y1="369.2" x2="194.7" y2="378.9" stroke="#ff8a9c" stroke-width="0.8"/>
<line x1="191.6" y1="369.2" x2="197.79999999999998" y2="369.2" stroke="#ff8a9c" stroke-width="0.8"/>
<line x1="191.6" y1="378.9" x2="197.79999999999998" y2="378.9" stroke="#ff8a9c" stroke-width="0.8"/>
<line x1="219.9" y1="322.8" x2="219.9" y2="351.6" stroke="#ff8a9c" stroke-width="0.8"/>
<line x1="216.8" y1="322.8" x2="223.0" y2="322.8" stroke="#ff8a9c" stroke-width="0.8"/>
<line x1="216.8" y1="351.6" x2="223.0" y2="351.6" stroke="#ff8a9c" stroke-width="0.8"/>
<line x1="157.6" y1="366.4" x2="182.5" y2="396.3" stroke="#e00000" stroke-width="1.8"/>
<line x1="194.7" y1="373.6" x2="219.9" y2="337.3" stroke="#e00000" stroke-width="1.8"/>
<circle cx="157.6" cy="366.4" r="2.95" fill="#b00012" stroke="#680000" stroke-width="0.6"/>
<circle cx="182.5" cy="396.3" r="2.95" fill="#b00012" stroke="#680000" stroke-width="0.6"/>
<circle cx="194.7" cy="373.6" r="2.95" fill="#b00012" stroke="#680000" stroke-width="0.6"/>
<circle cx="219.9" cy="337.3" r="2.95" fill="#b00012" stroke="#680000" stroke-width="0.6"/>
<line x1="269.0" y1="309.2" x2="269.0" y2="419.1" stroke="#9a9a9a" stroke-width="0.9"/>
<line x1="269.0" y1="419.1" x2="272.2" y2="419.1" stroke="#8a8a8a" stroke-width="0.9"/>
<line x1="269.0" y1="411.25" x2="270.6" y2="411.25" stroke="#a0a0a0" stroke-width="0.8"/>
<line x1="269.0" y1="403.40" x2="271.8" y2="403.40" stroke="#8a8a8a" stroke-width="0.8"/>
<line x1="269.0" y1="395.55" x2="270.6" y2="395.55" stroke="#a0a0a0" stroke-width="0.8"/>
<line x1="269.0" y1="387.70" x2="271.8" y2="387.70" stroke="#8a8a8a" stroke-width="0.8"/>
<line x1="269.0" y1="379.85" x2="270.6" y2="379.85" stroke="#a0a0a0" stroke-width="0.8"/>
<line x1="269.0" y1="372.00" x2="271.8" y2="372.00" stroke="#8a8a8a" stroke-width="0.8"/>
<line x1="269.0" y1="364.15" x2="270.6" y2="364.15" stroke="#a0a0a0" stroke-width="0.8"/>
<line x1="269.0" y1="356.30" x2="271.8" y2="356.30" stroke="#8a8a8a" stroke-width="0.8"/>
<line x1="269.0" y1="348.45" x2="270.6" y2="348.45" stroke="#a0a0a0" stroke-width="0.8"/>
<line x1="269.0" y1="340.60" x2="271.8" y2="340.60" stroke="#8a8a8a" stroke-width="0.8"/>
<line x1="269.0" y1="332.75" x2="270.6" y2="332.75" stroke="#a0a0a0" stroke-width="0.8"/>
<line x1="269.0" y1="324.90" x2="271.8" y2="324.90" stroke="#8a8a8a" stroke-width="0.8"/>
<line x1="269.0" y1="317.05" x2="270.6" y2="317.05" stroke="#a0a0a0" stroke-width="0.8"/>
<line x1="269.0" y1="309.20" x2="271.8" y2="309.20" stroke="#8a8a8a" stroke-width="0.8"/>
<text x="267.78" y="421.30" text-anchor="end" font-family='"Liberation Serif", serif' font-weight="bold" font-size="6.3" letter-spacing="0.28" fill="#222" stroke="#222" stroke-width="0.12">0</text>
<text x="267.78" y="405.60" text-anchor="end" font-family='"Liberation Serif", serif' font-weight="bold" font-size="6.3" letter-spacing="0.28" fill="#222" stroke="#222" stroke-width="0.12">100</text>
<text x="267.78" y="389.90" text-anchor="end" font-family='"Liberation Serif", serif' font-weight="bold" font-size="6.3" letter-spacing="0.28" fill="#222" stroke="#222" stroke-width="0.12">200</text>
<text x="267.78" y="374.20" text-anchor="end" font-family='"Liberation Serif", serif' font-weight="bold" font-size="6.3" letter-spacing="0.28" fill="#222" stroke="#222" stroke-width="0.12">300</text>
<text x="267.78" y="358.50" text-anchor="end" font-family='"Liberation Serif", serif' font-weight="bold" font-size="6.3" letter-spacing="0.28" fill="#222" stroke="#222" stroke-width="0.12">400</text>
<text x="267.78" y="342.80" text-anchor="end" font-family='"Liberation Serif", serif' font-weight="bold" font-size="6.3" letter-spacing="0.28" fill="#222" stroke="#222" stroke-width="0.12">500</text>
<text x="267.78" y="327.10" text-anchor="end" font-family='"Liberation Serif", serif' font-weight="bold" font-size="6.3" letter-spacing="0.28" fill="#222" stroke="#222" stroke-width="0.12">600</text>
<text x="267.78" y="311.40" text-anchor="end" font-family='"Liberation Serif", serif' font-weight="bold" font-size="6.3" letter-spacing="0.28" fill="#222" stroke="#222" stroke-width="0.12">700</text>
<text transform="translate(252.3,364.22) rotate(-90)" text-anchor="middle" font-family='"Liberation Serif", serif' font-weight="bold" font-size="7" letter-spacing="0.24" fill="#111" stroke="#111" stroke-width="0.22">Arterial dP/dtmax, mmHg s<tspan font-size="4.6" dy="-3">-1</tspan></text>
<text x="284.7" y="423.9" font-family='"Liberation Sans", sans-serif' font-weight="bold" font-size="5.7" letter-spacing="0.35" fill="#141418" stroke="#141418" stroke-width="0.25" textLength="27.2" lengthAdjust="spacingAndGlyphs">ESMOLOL</text>
<text x="320.4" y="423.9" font-family='"Liberation Sans", sans-serif' font-weight="bold" font-size="5.7" letter-spacing="0.35" fill="#141418" stroke="#141418" stroke-width="0.25" textLength="36.5" lengthAdjust="spacingAndGlyphs">DOBUTAMINE</text>
<line x1="281.5" y1="331.0" x2="281.5" y2="361.4" stroke="#bce4bc" stroke-width="0.8"/>
<line x1="278.4" y1="331.0" x2="284.6" y2="331.0" stroke="#bce4bc" stroke-width="0.8"/>
<line x1="278.4" y1="361.4" x2="284.6" y2="361.4" stroke="#bce4bc" stroke-width="0.8"/>
<line x1="306.2" y1="367.4" x2="306.2" y2="396.0" stroke="#bce4bc" stroke-width="0.8"/>
<line x1="303.09999999999997" y1="367.4" x2="309.3" y2="367.4" stroke="#bce4bc" stroke-width="0.8"/>
<line x1="303.09999999999997" y1="396.0" x2="309.3" y2="396.0" stroke="#bce4bc" stroke-width="0.8"/>
<line x1="318.3" y1="318.2" x2="318.3" y2="379.3" stroke="#bce4bc" stroke-width="0.8"/>
<line x1="315.2" y1="318.2" x2="321.40000000000003" y2="318.2" stroke="#bce4bc" stroke-width="0.8"/>
<line x1="315.2" y1="379.3" x2="321.40000000000003" y2="379.3" stroke="#bce4bc" stroke-width="0.8"/>
<line x1="343.5" y1="309.2" x2="343.5" y2="360.0" stroke="#bce4bc" stroke-width="0.8"/>
<line x1="340.4" y1="309.2" x2="346.6" y2="309.2" stroke="#bce4bc" stroke-width="0.8"/>
<line x1="340.4" y1="360.0" x2="346.6" y2="360.0" stroke="#bce4bc" stroke-width="0.8"/>
<line x1="281.5" y1="363.0" x2="281.5" y2="375.7" stroke="#b0cce8" stroke-width="0.8"/>
<line x1="278.4" y1="363.0" x2="284.6" y2="363.0" stroke="#b0cce8" stroke-width="0.8"/>
<line x1="278.4" y1="375.7" x2="284.6" y2="375.7" stroke="#b0cce8" stroke-width="0.8"/>
<line x1="306.2" y1="380.0" x2="306.2" y2="397.5" stroke="#b0cce8" stroke-width="0.8"/>
<line x1="303.09999999999997" y1="380.0" x2="309.3" y2="380.0" stroke="#b0cce8" stroke-width="0.8"/>
<line x1="303.09999999999997" y1="397.5" x2="309.3" y2="397.5" stroke="#b0cce8" stroke-width="0.8"/>
<line x1="318.3" y1="360.3" x2="318.3" y2="375.2" stroke="#b0cce8" stroke-width="0.8"/>
<line x1="315.2" y1="360.3" x2="321.40000000000003" y2="360.3" stroke="#b0cce8" stroke-width="0.8"/>
<line x1="315.2" y1="375.2" x2="321.40000000000003" y2="375.2" stroke="#b0cce8" stroke-width="0.8"/>
<line x1="343.5" y1="341.0" x2="343.5" y2="360.0" stroke="#b0cce8" stroke-width="0.8"/>
<line x1="340.4" y1="341.0" x2="346.6" y2="341.0" stroke="#b0cce8" stroke-width="0.8"/>
<line x1="340.4" y1="360.0" x2="346.6" y2="360.0" stroke="#b0cce8" stroke-width="0.8"/>
<line x1="281.5" y1="361.4" x2="281.5" y2="373.8" stroke="#ffcab4" stroke-width="0.8"/>
<line x1="278.4" y1="361.4" x2="284.6" y2="361.4" stroke="#ffcab4" stroke-width="0.8"/>
<line x1="278.4" y1="373.8" x2="284.6" y2="373.8" stroke="#ffcab4" stroke-width="0.8"/>
<line x1="306.2" y1="372.0" x2="306.2" y2="384.0" stroke="#ffcab4" stroke-width="0.8"/>
<line x1="303.09999999999997" y1="372.0" x2="309.3" y2="372.0" stroke="#ffcab4" stroke-width="0.8"/>
<line x1="303.09999999999997" y1="384.0" x2="309.3" y2="384.0" stroke="#ffcab4" stroke-width="0.8"/>
<line x1="318.3" y1="362.0" x2="318.3" y2="375.2" stroke="#ffcab4" stroke-width="0.8"/>
<line x1="315.2" y1="362.0" x2="321.40000000000003" y2="362.0" stroke="#ffcab4" stroke-width="0.8"/>
<line x1="315.2" y1="375.2" x2="321.40000000000003" y2="375.2" stroke="#ffcab4" stroke-width="0.8"/>
<line x1="343.5" y1="341.6" x2="343.5" y2="367.8" stroke="#ffcab4" stroke-width="0.8"/>
<line x1="340.4" y1="341.6" x2="346.6" y2="341.6" stroke="#ffcab4" stroke-width="0.8"/>
<line x1="340.4" y1="367.8" x2="346.6" y2="367.8" stroke="#ffcab4" stroke-width="0.8"/>
<line x1="281.5" y1="346.3" x2="306.2" y2="381.7" stroke="#00e800" stroke-width="1.8"/>
<line x1="318.3" y1="348.8" x2="343.5" y2="321.2" stroke="#00e800" stroke-width="1.8"/>
<line x1="281.5" y1="369.5" x2="306.2" y2="388.8" stroke="#1e78ff" stroke-width="1.8"/>
<line x1="318.3" y1="368.0" x2="343.5" y2="350.5" stroke="#1e78ff" stroke-width="1.8"/>
<line x1="281.5" y1="367.7" x2="306.2" y2="378.2" stroke="#ffa000" stroke-width="1.8"/>
<line x1="318.3" y1="368.9" x2="343.5" y2="354.6" stroke="#ffa000" stroke-width="1.8"/>
<circle cx="281.5" cy="346.3" r="3.2" fill="#0ea40e" stroke="#066006" stroke-width="0.6"/>
<circle cx="306.2" cy="381.7" r="3.2" fill="#0ea40e" stroke="#066006" stroke-width="0.6"/>
<circle cx="318.3" cy="348.8" r="3.2" fill="#0ea40e" stroke="#066006" stroke-width="0.6"/>
<circle cx="343.5" cy="321.2" r="3.2" fill="#0ea40e" stroke="#066006" stroke-width="0.6"/>
<circle cx="281.5" cy="369.5" r="3.2" fill="#5a00f0" stroke="#3a00a0" stroke-width="0.6"/>
<circle cx="306.2" cy="388.8" r="3.2" fill="#5a00f0" stroke="#3a00a0" stroke-width="0.6"/>
<circle cx="318.3" cy="368.0" r="3.2" fill="#5a00f0" stroke="#3a00a0" stroke-width="0.6"/>
<circle cx="343.5" cy="350.5" r="3.2" fill="#5a00f0" stroke="#3a00a0" stroke-width="0.6"/>
<circle cx="281.5" cy="367.7" r="3.2" fill="#ff4a00" stroke="#b03000" stroke-width="0.6"/>
<circle cx="306.2" cy="378.2" r="3.2" fill="#ff4a00" stroke="#b03000" stroke-width="0.6"/>
<circle cx="318.3" cy="368.9" r="3.2" fill="#ff4a00" stroke="#b03000" stroke-width="0.6"/>
<circle cx="343.5" cy="354.6" r="3.2" fill="#ff4a00" stroke="#b03000" stroke-width="0.6"/>
<line x1="275.09999999999997" y1="318.4" x2="290.3" y2="318.4" stroke="#ffa000" stroke-width="1.8"/>
<circle cx="282.7" cy="318.4" r="3.2" fill="#ff4a00" stroke="#b03000" stroke-width="0.6"/>
<text x="296.3" y="320.30" font-family='"Liberation Serif", serif' font-weight="bold" font-size="5.5" fill="#1a1a1a" stroke="#1a1a1a" stroke-width="0.04">Aortic</text>
<line x1="275.09999999999997" y1="324.6" x2="290.3" y2="324.6" stroke="#1e78ff" stroke-width="1.8"/>
<circle cx="282.7" cy="324.6" r="3.2" fill="#5a00f0" stroke="#3a00a0" stroke-width="0.6"/>
<text x="296.3" y="326.50" font-family='"Liberation Serif", serif' font-weight="bold" font-size="5.5" fill="#1a1a1a" stroke="#1a1a1a" stroke-width="0.04">Femoral</text>
<line x1="275.09999999999997" y1="330.6" x2="290.3" y2="330.6" stroke="#00e800" stroke-width="1.8"/>
<circle cx="282.7" cy="330.6" r="3.2" fill="#0ea40e" stroke="#066006" stroke-width="0.6"/>
<text x="296.3" y="332.50" font-family='"Liberation Serif", serif' font-weight="bold" font-size="5.5" fill="#1a1a1a" stroke="#1a1a1a" stroke-width="0.04">Radial</text>
</svg>
</body></html>
